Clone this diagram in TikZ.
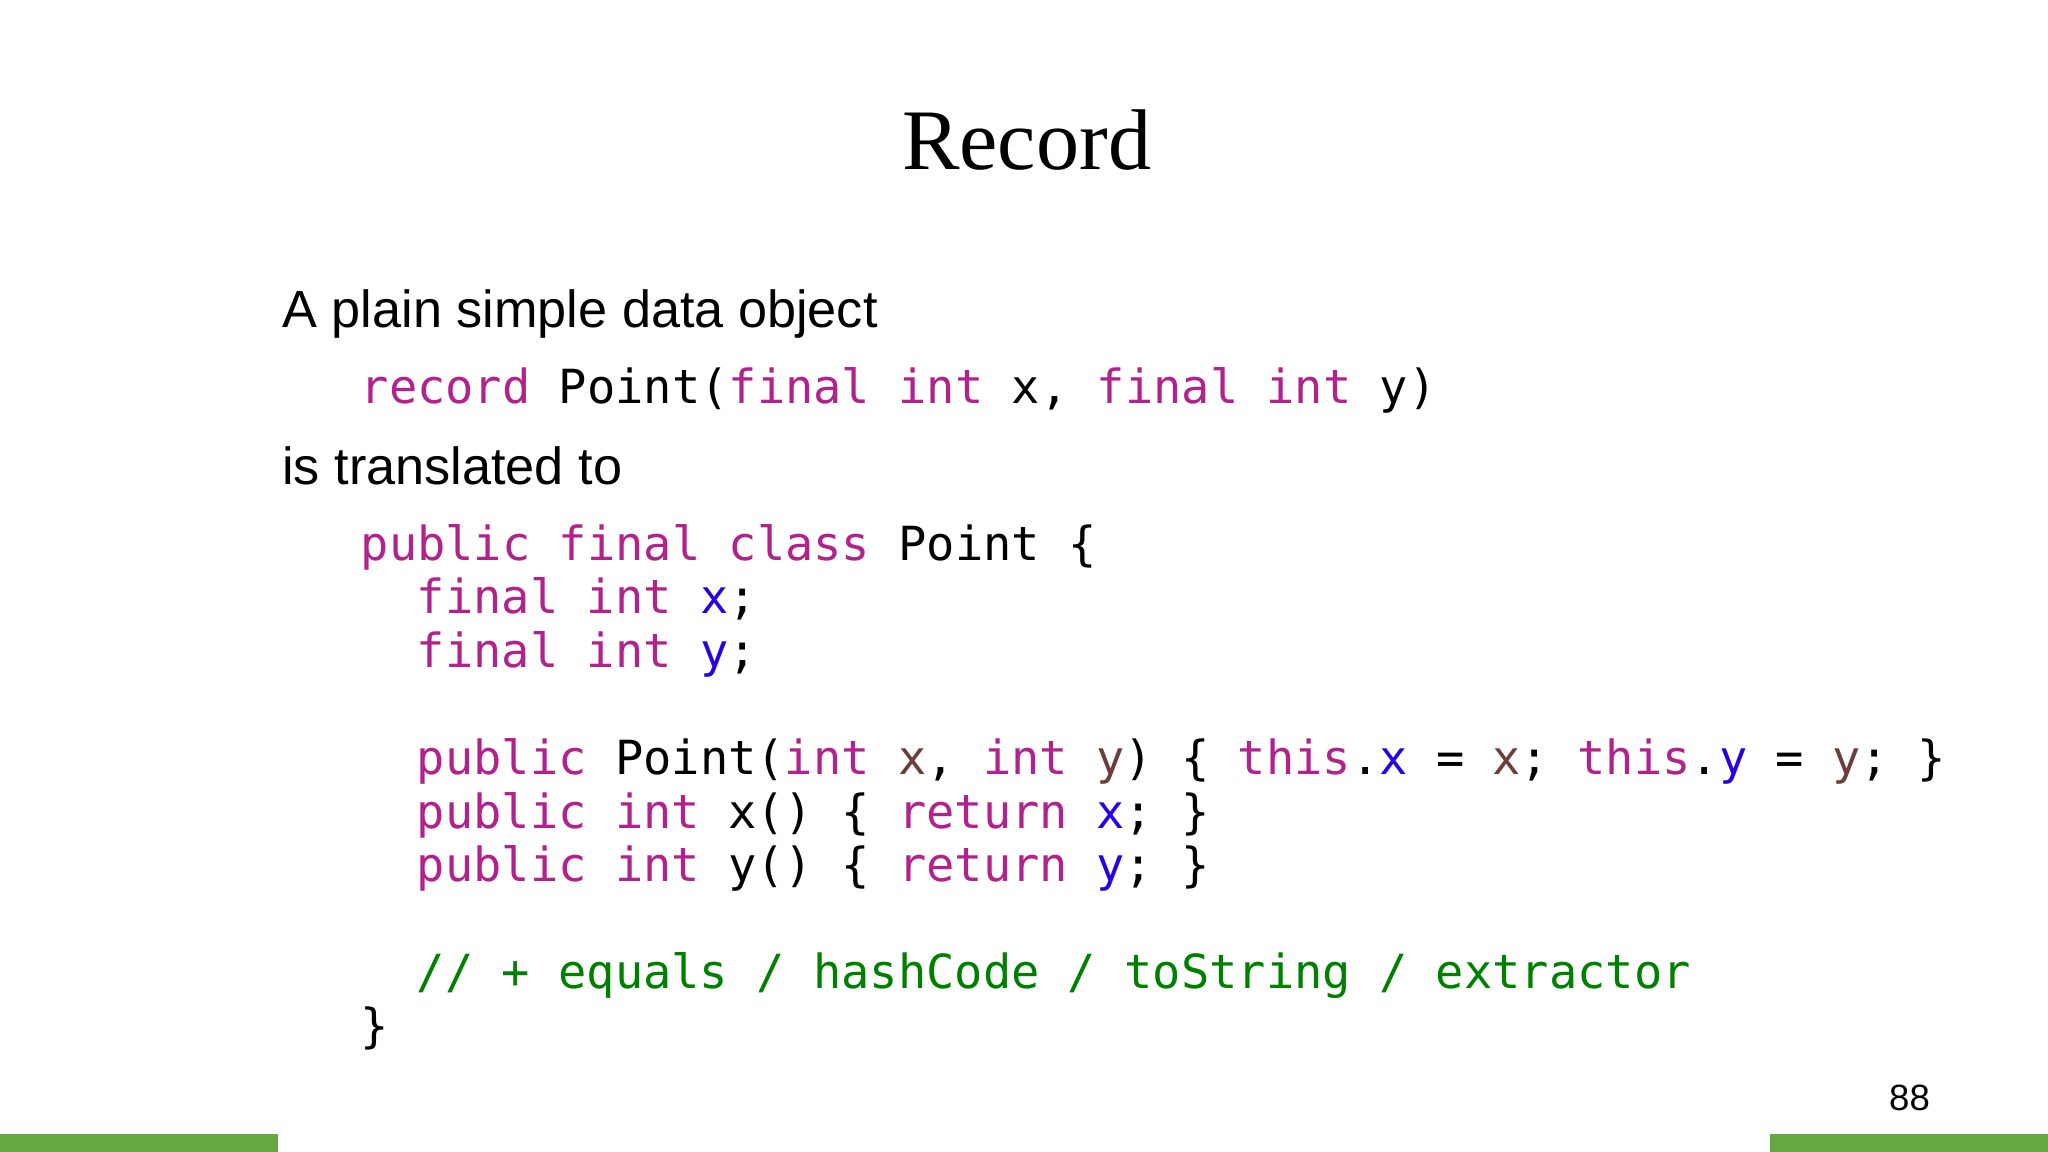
\documentclass[tikz,border=0pt]{standalone}
\usepackage{fontspec}
\setmainfont{Liberation Sans}
\newfontfamily\titlefont{Liberation Serif}
\newfontfamily\codefont{DejaVu Sans Mono}
\definecolor{kwc}{RGB}{178,34,140}
\definecolor{fdc}{RGB}{40,0,230}
\definecolor{pac}{RGB}{106,62,62}
\definecolor{cmc}{RGB}{0,128,0}
\definecolor{barc}{RGB}{102,168,63}
\newcommand{\kw}[1]{\textcolor{kwc}{#1}}
\newcommand{\fd}[1]{\textcolor{fdc}{#1}}
\newcommand{\pa}[1]{\textcolor{pac}{#1}}
\newcommand{\cmt}[1]{\textcolor{cmc}{#1}}
\begin{document}
\begin{tikzpicture}[x=1pt,y=-1pt,
  code/.style={anchor=base west,inner sep=0pt,font=\codefont\fontsize{36}{40}\selectfont},
  body/.style={anchor=base west,inner sep=0pt,font=\fontsize{40}{46}\selectfont}]
\useasboundingbox (0,0) rectangle (1568,882);
\fill[barc] (0,868) rectangle (213,882);
\fill[barc] (1355,868) rectangle (1568,882);
\node[anchor=base,inner sep=0pt,font=\titlefont\fontsize{66}{72}\selectfont] (title) at (786,130) {Record};
\node[body] (t1) at (216,251) {A plain simple data object};
\node[code] (c0) at (276,309) {\kw{record} Point(\kw{final} \kw{int} x, \kw{final} \kw{int} y)};
\node[body] (t2) at (216,371) {is translated to};
\node[code] (c1) at (276,429) {\kw{public} \kw{final} \kw{class} Point \{};
\node[code] (c2) at (319,470) {\kw{final} \kw{int} \fd{x};};
\node[code] (c3) at (319,511) {\kw{final} \kw{int} \fd{y};};
\node[code] (c4) at (319,593) {\kw{public} Point(\kw{int} \pa{x}, \kw{int} \pa{y}) \{ \kw{this}.\fd{x} = \pa{x}; \kw{this}.\fd{y} = \pa{y}; \}};
\node[code] (c5) at (319,634) {\kw{public} \kw{int} x() \{ \kw{return} \fd{x}; \}};
\node[code] (c6) at (319,675) {\kw{public} \kw{int} y() \{ \kw{return} \fd{y}; \}};
\node[code] (c7) at (319,757) {\cmt{// + equals / hashCode / toString / extractor}};
\node[code] (c8) at (276,798) {\}};
\node[anchor=base,inner sep=0pt,font=\fontsize{28}{32}\selectfont] (pg) at (1462,850) {88};
\end{tikzpicture}
\end{document}
